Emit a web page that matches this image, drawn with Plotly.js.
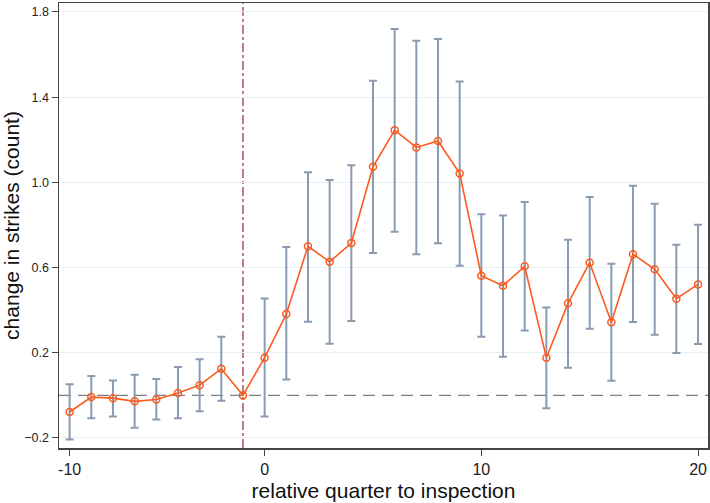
<!DOCTYPE html>
<html>
<head>
<meta charset="utf-8">
<script src="https://cdn.plot.ly/plotly-3.0.1.min.js"></script>
<style>html,body{margin:0;padding:0;background:#fff;}#chart{width:710px;height:503px;}</style>
</head>
<body>
<div id="chart"></div>
<script>
const quarters = [-9,-8,-7,-6,-5,-4,-3,-2,-1,0,1,2,3,4,5,6,7,8,9,10,11,12,13,14,15,16,17,18,19,20];
const estimate = [-0.078,-0.008,-0.013,-0.028,-0.019,0.011,0.048,0.125,0.0,0.177,0.382,0.700,0.627,0.715,1.073,1.245,1.164,1.194,1.042,0.562,0.515,0.606,0.177,0.432,0.623,0.343,0.663,0.592,0.454,0.521];
const ciUpper = [0.052,0.091,0.070,0.097,0.077,0.133,0.170,0.275,null,0.455,0.696,1.047,1.011,1.080,1.477,1.720,1.665,1.673,1.474,0.850,0.845,0.908,0.413,0.731,0.931,0.618,0.984,0.900,0.707,0.801];
const ciLower = [-0.207,-0.107,-0.099,-0.152,-0.113,-0.107,-0.074,-0.025,null,-0.099,0.075,0.346,0.242,0.349,0.668,0.768,0.663,0.714,0.608,0.275,0.181,0.305,-0.060,0.130,0.313,0.069,0.344,0.285,0.199,0.241];
const xTickVals = [-9, 0, 10, 20];
const xTickText = ["-10", "0", "10", "20"];
const yTickVals = [-0.2, 0.2, 0.6, 1.0, 1.4, 1.8];
const refQuarter = -1;

const errPlus = estimate.map((v,i) => ciUpper[i] === null ? NaN : ciUpper[i] - v);
const errMinus = estimate.map((v,i) => ciLower[i] === null ? NaN : v - ciLower[i]);

const ciTrace = {
  x: quarters, y: estimate, type: 'scatter', mode: 'markers',
  marker: {size: 1, color: 'rgba(0,0,0,0)'},
  error_y: {type: 'data', symmetric: false, array: errPlus, arrayminus: errMinus,
            color: '#8a9bb0', thickness: 2, width: 4},
  hoverinfo: 'skip', showlegend: false
};
const lineTrace = {
  x: quarters, y: estimate, type: 'scatter', mode: 'lines+markers',
  line: {color: '#fc5a1e', width: 1.6},
  marker: {symbol: 'circle-open', size: 7, color: '#fc5a1e', line: {width: 1.5, color: '#fc5a1e'}},
  showlegend: false
};

const layout = {
  width: 710, height: 503,
  margin: {l: 59, r: 2, t: 3, b: 55},
  paper_bgcolor: '#fff', plot_bgcolor: '#fff',
  font: {family: 'Liberation Sans, Arial, sans-serif', color: '#222'},
  xaxis: {
    range: [-9.49, 20.46], tickmode: 'array', tickvals: xTickVals, ticktext: xTickText,
    ticks: 'outside', ticklen: 6, tickcolor: '#444', tickwidth: 1,
    showgrid: false, zeroline: false, showline: true, linecolor: '#444', linewidth: 1.5, mirror: true,
    tickfont: {size: 16, color: '#222'},
    title: {text: 'relative quarter to inspection', font: {size: 21, color: '#111'}, standoff: 6}
  },
  yaxis: {
    range: [-0.247, 1.842], tickmode: 'array', tickvals: yTickVals,
    tickformat: '.1f',
    ticks: 'outside', ticklen: 6, tickcolor: '#444', tickwidth: 1,
    showgrid: true, gridcolor: '#e8eff2', gridwidth: 1,
    zeroline: false, showline: true, linecolor: '#444', linewidth: 1.5, mirror: true,
    tickfont: {size: 12.5, color: '#222'},
    title: {text: 'change in strikes (count)', font: {size: 21, color: '#111'}, standoff: 4}
  },
  shapes: [
    {type: 'line', xref: 'paper', x0: 0, x1: 1, yref: 'y', y0: 0, y1: 0,
     line: {color: '#7f7f7f', width: 1.3, dash: '12px,7px'}, layer: 'below'},
    {type: 'line', xref: 'x', x0: refQuarter, x1: refQuarter, yref: 'paper', y0: 0, y1: 1,
     line: {color: '#a8545e', width: 1.5, dash: 'dashdot'}, layer: 'below'}
  ]
};

Plotly.newPlot('chart', [ciTrace, lineTrace], layout, {displayModeBar: false, staticPlot: true});
</script>
</body>
</html>
